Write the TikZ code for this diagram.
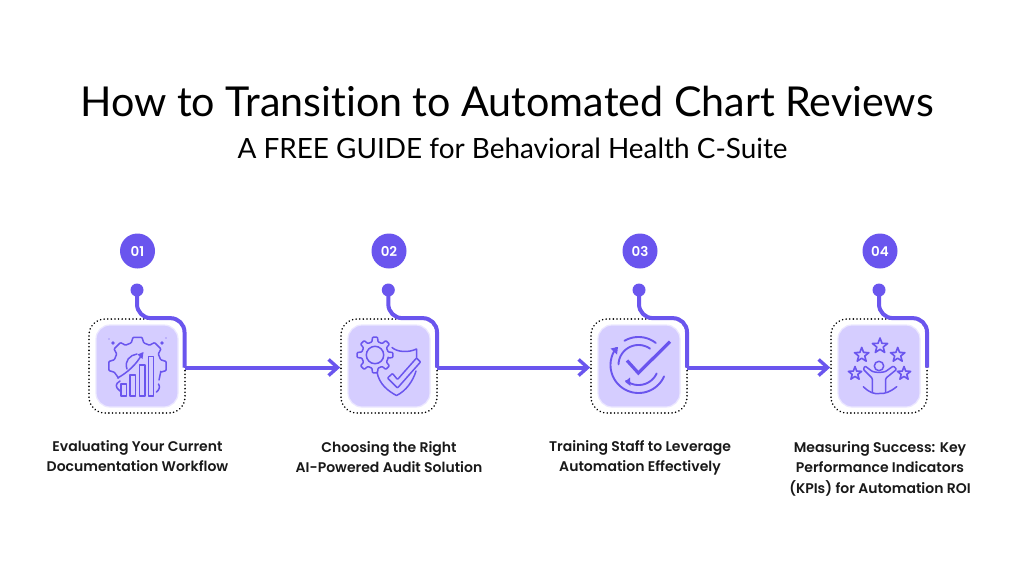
\documentclass[tikz,border=0pt]{standalone}
\usepackage{fontspec}
\setmainfont{Lato}[Ligatures=NoCommon]
\newfontfamily\labelfont{Poppins}[BoldFont={Poppins SemiBold}]
\definecolor{vio}{HTML}{6A55EE}
\definecolor{tilec}{HTML}{D5CDFF}
\usetikzlibrary{arrows.meta}
\tikzset{
  x=1pt,y=-1pt,
  badge/.style={circle,fill=vio,minimum size=35pt,inner sep=0pt,text=white,font=\labelfont\bfseries\fontsize{13.5}{15}\selectfont},
  pin/.style={circle,fill=vio,minimum size=13pt,inner sep=0pt},
  frame/.style={rectangle,rounded corners=16pt,draw=black,line width=1.7pt,dash pattern=on 0.1pt off 3.5pt,line cap=round,minimum width=96pt,minimum height=94pt,inner sep=0pt},
  tile/.style={rectangle,rounded corners=14pt,fill=tilec,draw=tilec!45!white,line width=1.2pt,minimum width=82pt,minimum height=82pt,inner sep=0pt},
  link/.style={draw=vio,line width=4pt},
  arrowlink/.style={link,-{Straight Barb[length=9pt,width=16pt,line width=3.4pt]}},
  stepl/.style={align=center,font=\labelfont\bfseries\fontsize{14}{20.5}\selectfont,text=black!90,anchor=north,inner sep=0pt},
  ico/.style={draw=vio,line width=1.5pt,line join=round,line cap=round},
  icoarc/.style={draw=vio,line width=1.9pt,line cap=round},
}
\newcommand{\icostar}[3]{%
  \draw[ico,line width=1.6pt] ({#1},{#2-#3})
    \foreach \a/\q in {126/.42,162/1,198/.42,234/1,270/.42,306/1,342/.42,18/1,54/.42}{
      -- ({#1+#3*\q*cos(\a)},{#2-#3*\q*sin(\a)})
    } -- cycle;
}
\newcommand{\ringarc}[5]{% cx cy r from to
  \draw[icoarc] plot[smooth,domain=#4:#5,samples=40,variable=\q] ({#1+#3*cos(\q)},{#2-#3*sin(\q)});
}
\begin{document}
\begin{tikzpicture}
\useasboundingbox (0,0) rectangle (1024,576);
\fill[white] (0,0) rectangle (1024,576);

\node[font=\fontsize{41.2}{48}\selectfont,text=black] (title) at (507,101) {How to Transition to Automated Chart Reviews};
\node[font=\fontsize{27.9}{32}\selectfont,text=black] (subtitle) at (512.5,148) {A FREE GUIDE for Behavioral Health C-Suite};

\foreach \n/\bx/\px/\fx in {1/137.5/137/137,2/389/388.3/389,3/640/639/639,4/880/879/879}{
  \node[badge] (badge\n) at (\bx,251) {0\n};
  \node[pin] (pin\n) at (\px,290) {};
  \node[frame] (frame\n) at (\fx,366) {};
  \node[tile] (tile\n) at (\fx,366) {};
}

\coordinate (j1) at (184.5,367.5);
\coordinate (j2) at (437,367.5);
\coordinate (j3) at (687,367.5);
\coordinate (j4) at (927,367.5);

\foreach \n in {1,2,3,4}{
  \draw[link,rounded corners=14pt] (pin\n.center) -- (pin\n.center |- frame\n.north) -- (j\n |- frame\n.north) -- (j\n);
}
\draw[arrowlink] (j1) -- (j1 -| frame2.west);
\draw[arrowlink] (j2) -- (j2 -| frame3.west);
\draw[arrowlink] (j3) -- (j3 -| frame4.west);

\node[stepl] (label1) at (137.5,440) {Evaluating Your Current\\Documentation Workflow};
\node[stepl] (label2) at (389,441) {Choosing the Right\\AI-Powered Audit Solution};
\node[stepl] (label3) at (640,440) {Training Staff to Leverage\\Automation Effectively};
\node[stepl] (label4) at (880,441) {Measuring Success: Key\\Performance Indicators\\(KPIs) for Automation ROI};

% icon 1
\begin{scope}
\def\cx{137.5}\def\cy{366}
\draw[ico,rounded corners=.8pt]
  (159,380) -- ({\cx+24*cos(-15)},{\cy-24*sin(-15)})
  \foreach \t in {0,45,90,135,180}{
    -- ({\cx+24*cos(\t-15)},{\cy-24*sin(\t-15)})
    -- ({\cx+29*cos(\t-9)},{\cy-29*sin(\t-9)})
    -- ({\cx+29*cos(\t+9)},{\cy-29*sin(\t+9)})
    -- ({\cx+24*cos(\t+15)},{\cy-24*sin(\t+15)})
  } -- (118.5,378);
\draw[ico] (120,381) .. controls (115,384) and (115,387) .. (120,391);
\draw[ico] (158.5,384) .. controls (160.5,387) and (159,390) .. (156.5,392);
\draw[ico,fill=tilec] (121,384) rectangle (126.5,396);
\draw[ico,fill=tilec] (130,375) rectangle (135.5,396);
\draw[ico,fill=tilec] (139.3,365) rectangle (145,396);
\draw[ico,fill=tilec] (148.3,356.5) rectangle (153.5,396);
\draw[ico] (117.5,378) .. controls (127,373) and (137,364) .. (142,354);
\fill[vio] (143.5,352) -- (137.5,354.5) -- (142.5,359) -- cycle;
\draw[ico] (127,369) .. controls (124,361) and (130,355) .. (137,354);
\fill[vio] (113,343) circle[radius=1.9] (162,343) circle[radius=1.9];
\fill[vio] (109,339) circle[radius=.6] (166,338) circle[radius=.6];
\end{scope}

% icon 2
\begin{scope}
\def\cx{375}\def\cy{355}
\draw[ico,rounded corners=.8pt]
  ({\cx+13.5*cos(-13)},{\cy-13.5*sin(-13)})
  \foreach \t in {0,45,90,135,180,225,270,315}{
    -- ({\cx+13.5*cos(\t-13)},{\cy-13.5*sin(\t-13)})
    -- ({\cx+18*cos(\t-8)},{\cy-18*sin(\t-8)})
    -- ({\cx+18*cos(\t+8)},{\cy-18*sin(\t+8)})
    -- ({\cx+13.5*cos(\t+13)},{\cy-13.5*sin(\t+13)})
  } -- cycle;
\draw[ico] (\cx,\cy) circle[radius=8.7];
\draw[ico] (392,347.5) .. controls (397,352) and (408,353) .. (416.5,349) -- (416.5,357.5);
\draw[ico] (377,372) .. controls (379,384) and (388,391) .. (396.5,395.5) .. controls (406,391) and (413,381) .. (416,371);
\draw[ico,rounded corners=.7pt] (387.5,378) -- (392.5,373.5) -- (397.5,379.5) -- (416.5,358) -- (420.5,362) -- (397.5,388) -- cycle;
\end{scope}

% icon 3
\begin{scope}
\def\cx{638.5}\def\cy{365}
\ringarc{\cx}{\cy}{28}{52}{120}
\ringarc{\cx}{\cy}{28}{142}{336}
\ringarc{\cx}{\cy}{20}{55}{178}
\ringarc{\cx}{\cy}{20}{232}{335}
\fill[vio] (618,347) -- (610.5,348.5) -- (617,354.5) -- cycle;
\fill[vio] (625,381.7) -- (630,377.5) -- (630.5,386) -- cycle;
\draw[icoarc,line width=3.2pt,line join=miter,line cap=butt] (627,360.5) -- (638.3,373) -- (670,341.7);
\end{scope}

% icon 4
\begin{scope}
\icostar{880}{346}{8}
\icostar{861.7}{355}{7.6}
\icostar{897.7}{355}{7.6}
\icostar{855}{373.5}{7}
\icostar{904}{373.5}{7}
\draw[ico] (879,366) circle[radius=4.7];
\draw[ico,rounded corners=1pt] (872.3,391.7) -- (872.3,378.3) -- (863.3,369.3) -- (865,366) -- (871.7,371) .. controls (875,372.7) and (883,372.7) .. (886.3,371) -- (893.3,366) -- (896.7,369.3) -- (885.7,378.3) -- (885.7,391.7);
\draw[ico] (863.3,386.7) .. controls (870,393) and (874,394) .. (879,393.5) .. controls (885,394) and (890,392) .. (896.7,386.7);
\end{scope}
\end{tikzpicture}
\end{document}
